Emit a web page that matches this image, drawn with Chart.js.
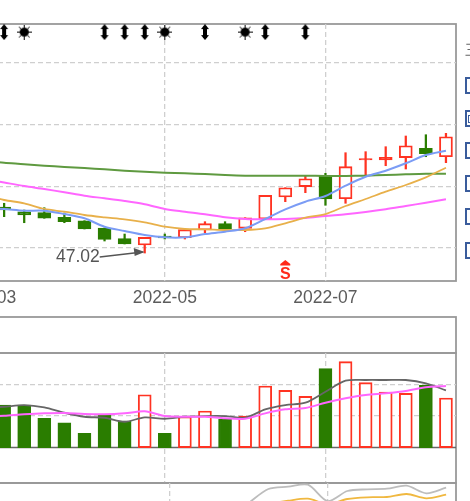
<!DOCTYPE html>
<html>
<head>
<meta charset="utf-8">
<script src="https://cdn.jsdelivr.net/npm/chart.js@4"></script>
<style>
  html, body { margin: 0; padding: 0; background: #fff; }
  body { width: 470px; height: 501px; overflow: hidden; position: relative; font-family: "Liberation Sans", Arial, sans-serif; }
  canvas { position: absolute; left: -80px; }
  #priceCanvas { top: 0; }
  #volumeCanvas { top: 310px; }
  #lowerCanvas { top: 481px; }
  .tool-box { position: absolute; left: 465px; width: 16px; height: 13px; border: 2px solid #3a5c9c; box-sizing: content-box; }
  .tool-box i { position: absolute; left: 1px; top: 3px; width: 5px; height: 6px; border: 1px solid #3a5c9c; }
  .tool-menu { position: absolute; left: 465px; top: 42px; font-size: 15px; color: #666; line-height: 16px; }
</style>
</head>
<body>
<canvas id="priceCanvas" width="550" height="310"></canvas>
<canvas id="volumeCanvas" width="550" height="175"></canvas>
<canvas id="lowerCanvas" width="550" height="60"></canvas>
<div class="tool-menu">三</div>
<div class="tool-box" style="top:77px"></div>
<div class="tool-box" style="top:110px"><i></i></div>
<div class="tool-box" style="top:142px"></div>
<div class="tool-box" style="top:175px"></div>
<div class="tool-box" style="top:208px"></div>
<div class="tool-box" style="top:242px"></div>
<script>
const categories = ["2022-03", "", "", "", "", "", "", "", "", "2022-05", "", "", "", "", "", "", "", "2022-07", "", "", "", "", "", ""];

const openValues = [55.8, 55.98, 55.06, 54.87, 53.97, 53.31, 51.89, 49.81, 48.58, 50.33, 50.0, 51.5, 52.73, 51.83, 53.64, 57.92, 59.93, 62.14, 57.59, 65.15, 65.12, 65.57, 67.4, 65.76];
const closeValues = [55.4, 55.39, 54.42, 53.78, 53.12, 51.7, 49.69, 48.78, 50.08, 49.95, 51.56, 52.73, 51.64, 53.89, 58.25, 59.73, 61.48, 57.53, 63.82, 65.4, 65.65, 67.9, 66.35, 69.65];
const highValues = [56.2, 56.7, 55.39, 55.84, 54.81, 53.31, 51.89, 50.72, 50.08, 50.72, 51.83, 53.12, 53.12, 53.89, 58.25, 59.73, 62.07, 62.53, 66.54, 66.74, 67.71, 69.79, 70.04, 70.31];
const lowValues = [55.0, 54.09, 52.92, 53.78, 52.92, 51.7, 49.36, 48.78, 47.02, 49.75, 49.75, 50.98, 51.64, 51.17, 53.64, 57.01, 58.76, 56.31, 56.7, 62.2, 64.01, 63.37, 65.76, 64.6];

const ma5Values = [55.78, 55.59, 55.26, 55.26, 54.61, 53.78, 52.14, 51.31, 50.53, 50.08, 50.08, 50.72, 51.17, 51.83, 53.64, 55.53, 57.01, 58.12, 60.12, 61.87, 63.04, 64.48, 66.09, 66.93];
const ma10Values = [58.31, 57.34, 56.7, 55.59, 55.06, 54.42, 53.97, 53.58, 53.0, 52.14, 51.7, 51.64, 51.5, 51.5, 51.83, 52.81, 53.89, 54.61, 56.17, 57.53, 58.95, 60.26, 61.75, 63.62];
const ma20Values = [61.42, 60.74, 60.06, 59.48, 58.84, 58.17, 57.67, 57.14, 56.5, 55.59, 55.06, 54.56, 53.97, 53.64, 53.58, 53.64, 53.84, 54.23, 54.56, 55.0, 55.53, 56.17, 56.81, 57.47];
const ma60Values = [64.83, 64.6, 64.28, 64.01, 63.76, 63.56, 63.31, 63.04, 62.84, 62.65, 62.53, 62.4, 62.2, 62.07, 62.07, 62.07, 62.07, 62.01, 62.01, 62.07, 62.2, 62.34, 62.45, 62.45];

const volumeValues = [1.2, 1.345, 1.345, 0.924, 0.785, 0.449, 1.038, 0.839, 1.671, 0.449, 0.975, 1.155, 0.892, 0.997, 1.946, 1.81, 1.62, 2.494, 2.715, 2.051, 1.756, 1.715, 1.968, 1.566];
const volumeMa5Values = [1.25, 1.291, 1.345, 1.272, 1.101, 0.975, 0.943, 0.816, 0.956, 0.911, 0.975, 0.997, 0.997, 0.943, 1.209, 1.345, 1.418, 1.766, 2.114, 2.136, 2.136, 2.136, 2.032, 1.81];
const volumeMa10Values = [0.98, 1.006, 1.051, 1.082, 1.092, 1.06, 1.051, 1.082, 1.146, 0.997, 0.975, 0.975, 0.924, 0.911, 1.082, 1.209, 1.25, 1.418, 1.557, 1.661, 1.715, 1.788, 1.905, 1.946];

const lowerGrayValues = [null, null, null, null, null, null, null, null, null, null, null, null, null, 17, 31, 33.3, 35.3, 19, 29, 30.7, 31.3, 34.3, 26.7, 32.3];
const lowerOrangeValues = [null, null, null, null, null, null, null, null, null, null, null, null, null, 10, 16, 19.3, 21.3, 16, 21, 22.7, 23, 26, 21.7, 25.3];

const arrowMarkers = [null, 90, null, null, null, null, 90, 90, 90, null, null, 90, null, null, 90, null, 90, null, null, null, null, null, null, null];
const starMarkers = [null, null, 90, null, null, null, null, null, null, 90, null, null, null, 90, null, null, null, null, null, null, null, null, null, null];

const lowLabel = "47.02";
const lowLabelIndex = 8;
const sellIndex = 15;

const RED = "#ff3322";
const GREEN = "#2a7d00";
const GRID = "#cfcfcf";
const FRAME = "#999999";

const isUp = (i) => closeValues[i] >= openValues[i];
const isThin = (i) => Math.abs(closeValues[i] - openValues[i]) < 0.6;
const candleFill = categories.map((_, i) => (isUp(i) ? (isThin(i) ? RED : "#ffffff") : GREEN));
const candleStroke = categories.map((_, i) => (isUp(i) ? RED : GREEN));
const volumeFill = categories.map((_, i) => (isUp(i) ? "#ffffff" : GREEN));
const wickBars = categories.map((_, i) => [lowValues[i], highValues[i]]);
const bodyBars = categories.map((_, i) => [openValues[i], closeValues[i]]);

function makeArrowSymbol() {
  const c = document.createElement("canvas");
  c.width = 10;
  c.height = 16;
  const g = c.getContext("2d");
  g.fillStyle = "#000";
  g.fillRect(3, 2, 4, 12);
  g.beginPath();
  g.moveTo(5, 0);
  g.lineTo(9, 5);
  g.lineTo(1, 5);
  g.closePath();
  g.moveTo(5, 16);
  g.lineTo(9, 11);
  g.lineTo(1, 11);
  g.closePath();
  g.fill();
  return c;
}

function makeStarSymbol() {
  const c = document.createElement("canvas");
  c.width = 15;
  c.height = 15;
  const g = c.getContext("2d");
  g.fillStyle = "#000";
  g.beginPath();
  g.arc(7.5, 7.5, 4.6, 0, Math.PI * 2);
  g.fill();
  g.strokeStyle = "#000";
  g.lineWidth = 1;
  for (let a = 0; a < 8; a++) {
    const t = (a * Math.PI) / 4;
    g.beginPath();
    g.moveTo(7.5 + Math.cos(t) * 4, 7.5 + Math.sin(t) * 4);
    g.lineTo(7.5 + Math.cos(t) * 7.5, 7.5 + Math.sin(t) * 7.5);
    g.stroke();
  }
  return c;
}

const panelFrame = {
  id: "panelFrame",
  beforeDraw(chart, args, opts) {
    const { ctx, chartArea: a } = chart;
    ctx.save();
    ctx.strokeStyle = FRAME;
    ctx.lineWidth = 1.8;
    ctx.strokeRect(a.left, a.top, a.right - a.left, a.bottom - a.top);
    if (opts.headerHeight) {
      ctx.strokeRect(a.left, a.top - opts.headerHeight, a.right - a.left, opts.headerHeight);
    }
    ctx.restore();
  }
};

const volumeBaseline = {
  id: "volumeBaseline",
  beforeDatasetsDraw(chart) {
    const { ctx, chartArea: a, scales } = chart;
    const y = scales.y.getPixelForValue(0);
    ctx.save();
    ctx.strokeStyle = "#666666";
    ctx.lineWidth = 1.4;
    ctx.beginPath();
    ctx.moveTo(a.left, y);
    ctx.lineTo(a.right, y);
    ctx.stroke();
    ctx.restore();
  }
};

const priceNotes = {
  id: "priceNotes",
  afterDatasetsDraw(chart) {
    const { ctx, scales } = chart;
    const lowX = scales.x.getPixelForValue(lowLabelIndex);
    const lowY = scales.y.getPixelForValue(lowValues[lowLabelIndex]);
    ctx.save();
    ctx.fillStyle = "#555555";
    ctx.font = '17.5px "Liberation Sans", Arial, sans-serif';
    ctx.textAlign = "right";
    ctx.textBaseline = "middle";
    ctx.fillText(lowLabel, lowX - 45, lowY + 4);
    ctx.strokeStyle = "#555555";
    ctx.lineWidth = 1.5;
    ctx.beginPath();
    ctx.moveTo(lowX - 45, lowY + 4);
    ctx.lineTo(lowX - 2, lowY - 1);
    ctx.stroke();
    ctx.beginPath();
    ctx.moveTo(lowX, lowY - 1);
    ctx.lineTo(lowX - 11, lowY - 5);
    ctx.lineTo(lowX - 10, lowY + 3);
    ctx.closePath();
    ctx.fill();

    const sellX = scales.x.getPixelForValue(sellIndex);
    ctx.fillStyle = "#ff2a1a";
    ctx.beginPath();
    ctx.moveTo(sellX, 260);
    ctx.lineTo(sellX + 5, 264);
    ctx.lineTo(sellX - 5, 264);
    ctx.closePath();
    ctx.fill();
    ctx.fillRect(sellX - 5, 264, 10, 1.5);
    ctx.font = 'bold 16px "Liberation Sans", Arial, sans-serif';
    ctx.textAlign = "center";
    ctx.textBaseline = "alphabetic";
    ctx.fillText("S", sellX, 279);
    ctx.restore();
  }
};

function xScale(showLabels, fitHeight) {
  return {
    type: "category",
    offset: true,
    border: { display: false, dash: [5, 3] },
    grid: {
      offset: false,
      drawTicks: false,
      lineWidth: 1.3,
      color: (c) => (c.tick && c.tick.label ? GRID : "transparent")
    },
    ticks: {
      display: showLabels,
      autoSkip: false,
      maxRotation: 0,
      minRotation: 0,
      padding: 7,
      color: "#5c5c5c",
      font: { family: '"Liberation Sans", Arial, sans-serif', size: 17.5 }
    },
    afterFit(scale) {
      scale.height = fitHeight;
    }
  };
}

function baseOptions(padding, x, y, extra) {
  return {
    responsive: false,
    animation: false,
    layout: { padding },
    scales: { x, y },
    plugins: Object.assign({ legend: { display: false }, tooltip: { enabled: false } }, extra)
  };
}

function lineSet(data, color, width, order) {
  return {
    type: "line",
    data,
    borderColor: color,
    borderWidth: width,
    pointRadius: 0,
    tension: 0.3,
    order
  };
}

new Chart(document.getElementById("priceCanvas"), {
  type: "bar",
  data: {
    labels: categories,
    datasets: [
      { data: wickBars, backgroundColor: candleStroke, barThickness: 1.6, grouped: false, order: 6 },
      {
        data: bodyBars,
        backgroundColor: candleFill,
        borderColor: candleStroke,
        borderWidth: 1.9,
        borderSkipped: false,
        barThickness: 13,
        grouped: false,
        order: 5
      },
      lineSet(ma60Values, "#5f9a40", 2, 4),
      lineSet(ma20Values, "#ff66ff", 2, 3),
      lineSet(ma10Values, "#e8b04a", 1.8, 2),
      lineSet(ma5Values, "#7b9cf5", 2, 1),
      { type: "line", data: arrowMarkers, showLine: false, pointStyle: makeArrowSymbol(), order: 0 },
      { type: "line", data: starMarkers, showLine: false, pointStyle: makeStarSymbol(), order: 0 }
    ]
  },
  options: baseOptions(
    { left: 54, right: 14, top: 24, bottom: 0 },
    xScale(true, 29),
    {
      type: "linear",
      min: 41.58,
      max: 91.58,
      afterBuildTicks(scale) {
        scale.ticks = [48, 60, 72, 84].map((value) => ({ value }));
      },
      border: { display: false, dash: [5, 3] },
      grid: { color: GRID, lineWidth: 1.3, drawTicks: false },
      ticks: { display: false }
    },
    {}
  ),
  plugins: [panelFrame, priceNotes]
});

new Chart(document.getElementById("volumeCanvas"), {
  type: "bar",
  data: {
    labels: categories,
    datasets: [
      {
        data: volumeValues,
        backgroundColor: volumeFill,
        borderColor: candleStroke,
        borderWidth: 1.9,
        borderSkipped: false,
        barThickness: 13,
        order: 3
      },
      lineSet(volumeMa5Values, "#666666", 1.8, 2),
      lineSet(volumeMa10Values, "#ff66ff", 2, 1)
    ]
  },
  options: baseOptions(
    { left: 54, right: 14, top: 43, bottom: 2 },
    xScale(false, 0),
    {
      type: "linear",
      min: -1.12,
      max: 2.99,
      afterBuildTicks(scale) {
        scale.ticks = [1, 2].map((value) => ({ value }));
      },
      border: { display: false, dash: [5, 3] },
      grid: { color: GRID, lineWidth: 1.3, drawTicks: false },
      ticks: { display: false }
    },
    { panelFrame: { headerHeight: 36 } }
  ),
  plugins: [panelFrame, volumeBaseline]
});

new Chart(document.getElementById("lowerCanvas"), {
  type: "line",
  data: {
    labels: categories,
    datasets: [
      lineSet(lowerGrayValues, "#bdbdbd", 1.8, 2),
      lineSet(lowerOrangeValues, "#f0b840", 1.8, 1)
    ]
  },
  options: baseOptions(
    { left: 54, right: 14, top: 2, bottom: 21 },
    xScale(false, 0),
    {
      type: "linear",
      min: 0,
      max: 37,
      afterBuildTicks(scale) {
        scale.ticks = [];
      },
      border: { display: false },
      grid: { display: false },
      ticks: { display: false }
    },
    {}
  ),
  plugins: [panelFrame]
});
</script>
</body>
</html>
